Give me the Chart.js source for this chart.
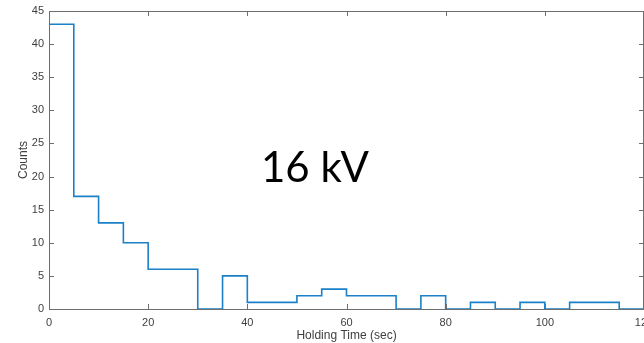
<!DOCTYPE html>
<html>
<head>
<meta charset="utf-8">
<script src="https://cdn.jsdelivr.net/npm/chart.js@4"></script>
<style>
  html, body { margin: 0; padding: 0; background: #fff; overflow: hidden; }
  #wrap { width: 644px; height: 343px; position: relative; }
</style>
</head>
<body>
<div id="wrap"><canvas id="histChart"></canvas></div>
<script>
// bin edges (sec) and counts per bin
const binEdges = [0, 5, 10, 15, 20, 25, 30, 35, 40, 45, 50, 55, 60, 65, 70, 75, 80, 85, 90, 95, 100, 105, 110, 115, 120];
const counts   = [43, 17, 13, 10, 6, 6, 0, 5, 1, 1, 2, 3, 2, 2, 0, 2, 0, 1, 0, 1, 0, 1, 1, 0];
const xTicks = [0, 20, 40, 60, 80, 100, 120];
const yTicks = [0, 5, 10, 15, 20, 25, 30, 35, 40, 45];
const overlayText = '16 kV';

// stairs outline: start at baseline, then one point per bin
const stairs = [{ x: binEdges[0], y: 0 }];
counts.forEach((c, i) => stairs.push({ x: binEdges[i], y: c }));
stairs.push({ x: binEdges[binEdges.length - 1], y: 0 });

const axisColor = '#6e6e6e';
const textColor = '#404040';

const boxPlugin = {
    id: 'matlabBox',
    afterDraw(chart) {
        const ctx = chart.ctx;
        const a = chart.chartArea;
        const xs = chart.scales.x, ys = chart.scales.y;
        ctx.save();
        ctx.strokeStyle = axisColor;
        ctx.lineWidth = 1;
        ctx.strokeRect(a.left + 0.5, a.top + 0.5, a.right - a.left - 1, a.bottom - a.top);
        ctx.beginPath();
        xTicks.forEach(v => {
            const px = Math.round(xs.getPixelForValue(v)) + 0.5;
            ctx.moveTo(px, a.bottom); ctx.lineTo(px, a.bottom - 5);
            ctx.moveTo(px, a.top); ctx.lineTo(px, a.top + 5);
        });
        yTicks.forEach(v => {
            const py = Math.round(ys.getPixelForValue(v)) + 0.5;
            ctx.moveTo(a.left, py); ctx.lineTo(a.left + 5, py);
            ctx.moveTo(a.right, py); ctx.lineTo(a.right - 5, py);
        });
        ctx.stroke();
        // large label inside the plot
        ctx.fillStyle = '#000';
        ctx.font = '42px Lato';
        ctx.textBaseline = 'alphabetic';
        ctx.fillText(overlayText, 261, 182);
        ctx.restore();
    }
};

const ctx = document.getElementById('histChart').getContext('2d');
new Chart(ctx, {
    type: 'line',
    data: {
        datasets: [{
            data: stairs,
            stepped: 'before',
            borderColor: '#1a80c8',
            borderWidth: 1.6,
            pointRadius: 0,
            fill: false
        }]
    },
    options: {
        responsive: true,
        maintainAspectRatio: false,
        animation: false,
        layout: { padding: { top: 11, right: 0, left: 0, bottom: 0 } },
        plugins: {
            legend: { display: false },
            tooltip: { enabled: false }
        },
        scales: {
            x: {
                type: 'linear',
                min: 0,
                max: 120,
                grid: { display: false, drawTicks: false },
                border: { display: false },
                ticks: {
                    stepSize: 20,
                    maxRotation: 0,
                    color: textColor,
                    font: { family: 'Liberation Sans', size: 11 },
                    padding: 7
                },
                title: {
                    display: true,
                    text: 'Holding Time (sec)',
                    color: textColor,
                    font: { family: 'Liberation Sans', size: 12 },
                    padding: { top: 1, bottom: 0 }
                },
                afterFit(scale) {
                    scale.height = 34;
                    scale.paddingRight = 0;
                    scale.paddingLeft = 0;
                }
            },
            y: {
                min: 0,
                max: 45,
                grid: { display: false, drawTicks: false },
                border: { display: false },
                ticks: {
                    stepSize: 5,
                    color: textColor,
                    font: { family: 'Liberation Sans', size: 11 },
                    padding: 5
                },
                title: {
                    display: true,
                    text: 'Counts',
                    color: textColor,
                    font: { family: 'Liberation Sans', size: 12 },
                    padding: { top: 16, bottom: 0 }
                },
                afterFit(scale) {
                    scale.width = 49;
                    scale.paddingTop = 0;
                    scale.paddingBottom = 0;
                }
            }
        }
    },
    plugins: [boxPlugin]
});
</script>
</body>
</html>
